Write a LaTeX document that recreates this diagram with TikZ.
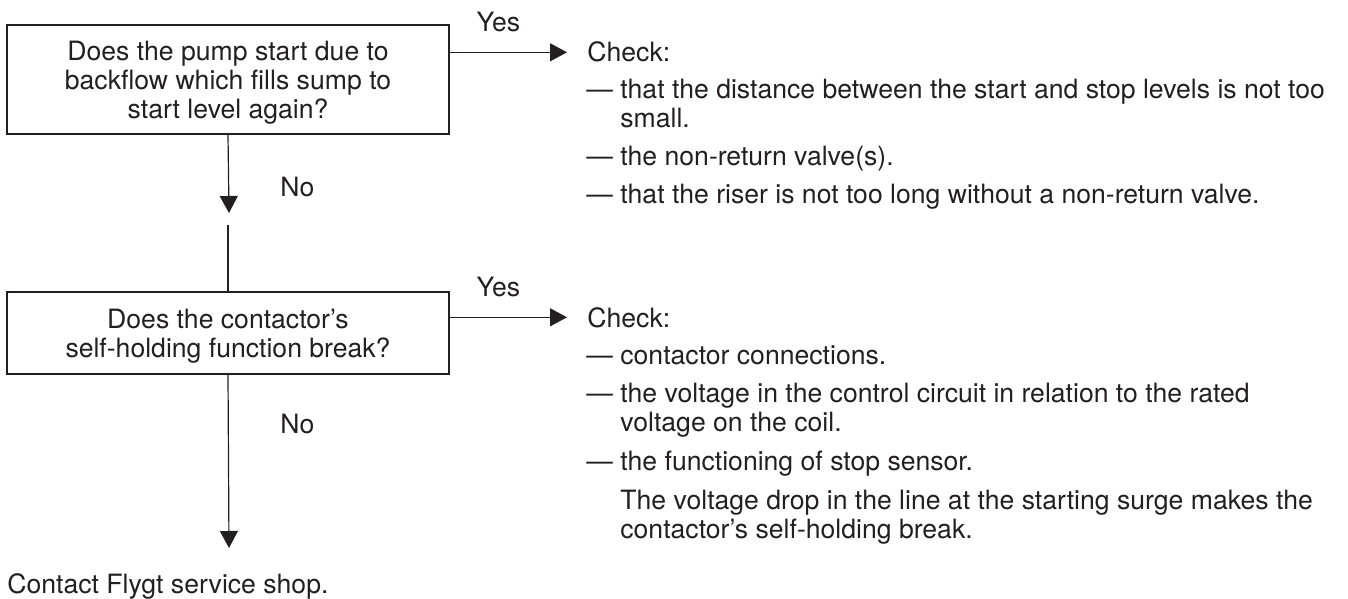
\documentclass[tikz,border=0pt]{standalone}
\usepackage{fontspec}
\setmainfont{TeX Gyre Heros}
\usetikzlibrary{arrows.meta}
\definecolor{ink}{RGB}{35,31,32}
\begin{document}
\begin{tikzpicture}[x=0.5pt,y=-0.5pt,
  every node/.style={font=\fontsize{13.3}{14.5}\selectfont, text=ink},
  qbox/.style={draw=ink, line width=0.6pt, align=center, text depth=0pt, minimum width=221pt},
  link/.style={draw=ink, line width=0.6pt},
  flow/.style={link, -{Triangle[length=8.5pt,width=9pt]}},
  txt/.style={anchor=base west, inner sep=0pt, align=left},
  lbl/.style={above=10pt, inner sep=0pt}]
\useasboundingbox (0,0) rectangle (1348,599);
% questions
\node[qbox, minimum height=54.5pt] (q1) at (228,79.5) {Does the pump start due to\\backflow which fills sump to\\start level again?};
\node[qbox, minimum height=41pt] (q2) at (228,333) {Does the contactor's\\self-holding function break?};
% what to check (base = last line)
\node[txt] (chk1) at (587,62) {Check:};
\node[txt] (a11) at (620,127) {\llap{\textemdash\ }that the distance between the start and stop levels is not too\\small.};
\node[txt] (a12) at (620,165) {\llap{\textemdash\ }the non-return valve(s).};
\node[txt] (a13) at (620,203) {\llap{\textemdash\ }that the riser is not too long without a non-return valve.};
\node[txt] (chk2) at (587,327) {Check:};
\node[txt] (a21) at (620,364) {\llap{\textemdash\ }contactor connections.};
\node[txt] (a22) at (620,431) {\llap{\textemdash\ }the voltage in the control circuit in relation to the rated\\voltage on the coil.};
\node[txt] (a23) at (620,470) {\llap{\textemdash\ }the functioning of stop sensor.};
\node[txt] (note) at (620,538) {The voltage drop in the line at the starting surge makes the\\contactor's self-holding break.};
\node[txt] (done) at (7,593) {Contact Flygt service shop.};
% No branches
\coordinate (no1) at (229,213);
\coordinate (go2) at (229,225);
\coordinate (no2) at (229,548);
\draw[flow] (q1.south) -- (no1);
\node[txt] (lno1) at (280,196) {No};
\draw[link] (q2.north |- go2) -- (q2.north);
\draw[flow] (q2.south) -- (no2);
\node[txt] (lno2) at (280,433) {No};
% Yes branches
\draw[flow, shorten >=10pt] (q1.east |- chk1.west) -- (chk1.west) node[lbl, pos=0.355] {Yes};
\draw[flow, shorten >=10pt] (q2.east |- chk2.west) -- (chk2.west) node[lbl, pos=0.355] {Yes};
\end{tikzpicture}
\end{document}
